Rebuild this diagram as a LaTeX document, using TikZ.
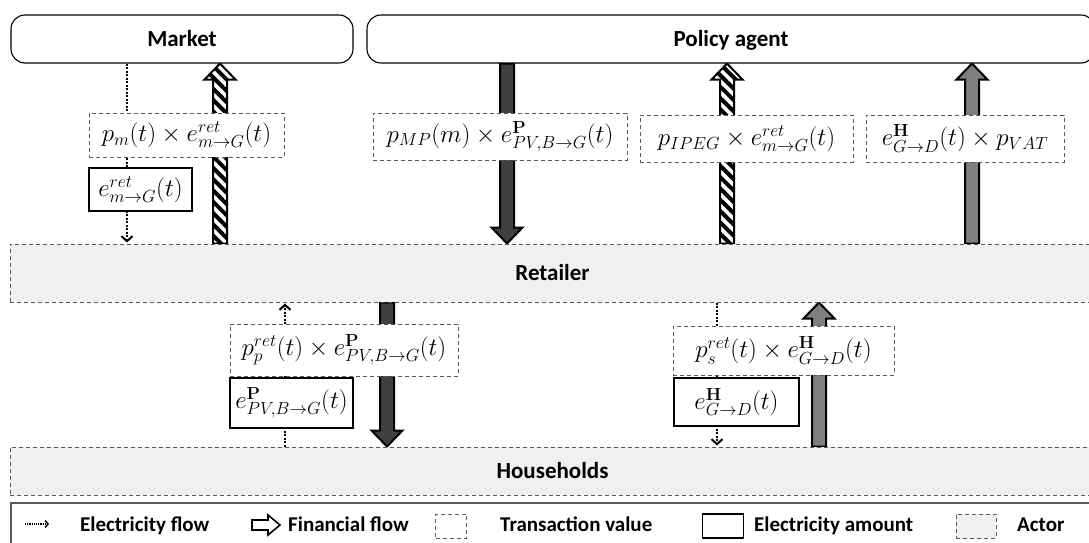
\documentclass[tikz,border=0pt]{standalone}
\usepackage{fix-cm}
\usepackage[no-math]{fontspec}
\setmainfont{Carlito}
\usetikzlibrary{arrows.meta,calc,patterns.meta,backgrounds}

\definecolor{actorfill}{HTML}{F0F0F0}
\definecolor{darkgrey}{HTML}{404040}
\definecolor{midgrey}{HTML}{7F7F7F}
\definecolor{edgegrey}{HTML}{5A5A5A}

\newcommand\ttlfont{\fontsize{23}{27}\selectfont\bfseries}
\newcommand\valfont{\fontsize{25}{29}\selectfont}
\newcommand\lgdfont{\fontsize{21}{25}\selectfont\bfseries}

% vertical block arrow: #1 style, #2 tail point, #3 tip point
\newcommand\flowarrow[3]{%
  \path[#1] let \p1=#2, \p2=#3,
    \n1={\y2-ifthenelse(\y2>\y1,16pt,-16pt)} in
    ({\x1-7pt},\y1) -- ({\x1-7pt},{\n1*1pt}) -- ({\x1-15.5pt},{\n1*1pt})
    -- (\x1,\y2) -- ({\x1+15.5pt},{\n1*1pt}) -- ({\x1+7pt},{\n1*1pt})
    -- ({\x1+7pt},\y1) -- cycle;}

\begin{document}
\begin{tikzpicture}[x=1pt,y=-1pt,
  party/.style={draw=black, line width=1.1pt, rounded corners=14pt, fill=white,
    inner sep=0pt, font=\ttlfont, text height=15pt, text depth=0pt},
  actor/.style={draw=edgegrey, line width=1pt, dash pattern=on 4pt off 3pt,
    fill=actorfill, inner sep=0pt, font=\ttlfont, text height=15pt, text depth=0pt},
  value/.style={draw=edgegrey, line width=1pt, dash pattern=on 4pt off 3pt,
    fill=white, inner sep=0pt, font=\valfont},
  amount/.style={draw=black, line width=2pt, fill=white, inner sep=0pt, font=\valfont},
  lgd/.style={font=\lgdfont, inner sep=0pt},
  eflow/.style={line width=2pt, dash pattern=on 2pt off 1.5pt,
    -{Straight Barb[length=5pt,width=11pt,line width=2pt]}, shorten >=1pt},
  fflow/.style={draw=black, line width=2pt, line join=miter},
  hatchflow/.style={fflow, preaction={fill=white},
    pattern={Lines[angle=-45,distance=8pt,line width=4pt]}},
  darkflow/.style={fflow, fill=darkgrey},
  greyflow/.style={fflow, fill=midgrey},
]
\useasboundingbox (0,0) rectangle (1089,543);

% actors
\node[party, minimum width=342pt, minimum height=48pt] (market) at (182,39) {Market};
\node[party, minimum width=728pt, minimum height=48pt] (policy) at (731,39) {Policy agent};
\node[actor, minimum width=1085pt, minimum height=58pt] (retailer) at (552.5,273) {Retailer};
\node[actor, minimum width=1085pt, minimum height=48pt] (households) at (552.5,471) {Households};

% transaction values and electricity amounts
\node[value, minimum width=195pt, minimum height=44pt] (pm) at (186.5,135)
  {$p_m(t)\times e^{ret}_{m\to G}(t)$};
\node[amount, minimum width=103pt, minimum height=43pt] (em) at (140.5,189.5)
  {$e^{ret}_{m\to G}(t)$};
\node[value, minimum width=254pt, minimum height=47pt] (pmp) at (500,136.5)
  {$p_{MP}(m)\times e^{\mathbf{P}}_{PV,B\to G}(t)$};
\node[value, minimum width=213pt, minimum height=47pt] (pipeg) at (746.5,138.5)
  {$p_{IPEG}\times e^{ret}_{m\to G}(t)$};
\node[value, minimum width=198pt, minimum height=47pt] (pvat) at (965,138.5)
  {$e^{\mathbf{H}}_{G\to D}(t)\times p_{VAT}$};
\node[value, minimum width=228pt, minimum height=52pt] (ppp) at (344,350)
  {$p^{ret}_p(t)\times e^{\mathbf{P}}_{PV,B\to G}(t)$};
\node[amount, minimum width=123pt, minimum height=50pt] (epv) at (291.5,403)
  {$e^{\mathbf{P}}_{PV,B\to G}(t)$};
\node[value, minimum width=221pt, minimum height=49pt] (pps) at (783.5,350.5)
  {$p^{ret}_s(t)\times e^{\mathbf{H}}_{G\to D}(t)$};
\node[amount, minimum width=125pt, minimum height=48pt] (eh) at (736.5,402)
  {$e^{\mathbf{H}}_{G\to D}(t)$};

% flow columns
\coordinate (xa) at (127,0);
\coordinate (xb) at (220,0);
\coordinate (xc) at (507,0);
\coordinate (xd) at (727,0);
\coordinate (xe) at (972,0);
\coordinate (xf) at (285,0);
\coordinate (xg) at (387,0);
\coordinate (xh) at (717,0);
\coordinate (xi) at (819,0);

\begin{scope}[on background layer]
  \draw[eflow] (market.south -| xa) -- (retailer.north -| xa);
  \flowarrow{hatchflow}{(retailer.north -| xb)}{(market.south -| xb)}
  \flowarrow{darkflow}{(policy.south -| xc)}{(retailer.north -| xc)}
  \flowarrow{hatchflow}{(retailer.north -| xd)}{(policy.south -| xd)}
  \flowarrow{greyflow}{(retailer.north -| xe)}{(policy.south -| xe)}
  \draw[eflow] (households.north -| xf) -- (retailer.south -| xf);
  \flowarrow{darkflow}{(retailer.south -| xg)}{(households.north -| xg)}
  \draw[eflow] (retailer.south -| xh) -- (households.north -| xh);
  \flowarrow{greyflow}{(households.north -| xi)}{(retailer.south -| xi)}
\end{scope}

% legend
\node[draw=edgegrey, line width=1.5pt, minimum width=1095pt, minimum height=60pt,
  anchor=north west, inner sep=0pt] (legend) at (10,502) {};
\coordinate (le0) at (25,524);
\coordinate (le1) at (49,524);
\draw[line width=1.2pt, dash pattern=on 1.2pt off 1pt,
  -{Straight Barb[length=3pt,width=7pt,line width=1.4pt]}] (le0) -- (le1);
\node[lgd, anchor=base west] (lt1) at (80,531) {Electricity flow};
\draw[fflow, line width=1.6pt, fill=white]
  (252,520) -- (268,520) -- (268,515) -- (280,525) -- (268,535)
  -- (268,530) -- (252,530) -- cycle;
\node[lgd, anchor=base west] (lt2) at (288,531) {Financial flow};
\node[value, minimum width=31pt, minimum height=24pt] (lv) at (451,526) {};
\node[lgd, anchor=base west] (lt3) at (500,531) {Transaction value};
\node[amount, line width=1.6pt, minimum width=41pt, minimum height=24pt] (la) at (723,526) {};
\node[lgd, anchor=base west] (lt4) at (754,531) {Electricity amount};
\node[actor, minimum width=40pt, minimum height=24pt] (lc) at (976,526) {};
\node[lgd, anchor=base west] (lt5) at (1017,531) {Actor};
\end{tikzpicture}
\end{document}
